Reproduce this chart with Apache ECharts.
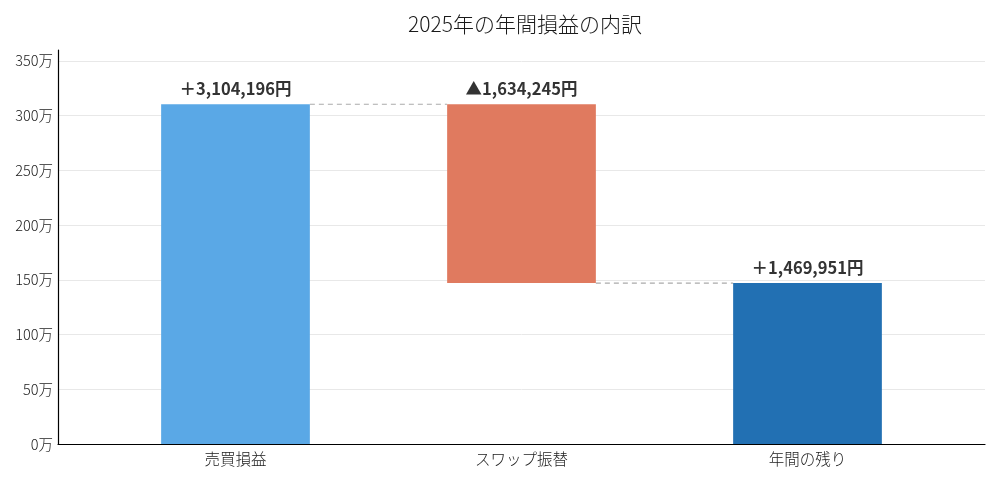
<!DOCTYPE html>
<html><head><meta charset="utf-8">
<script src="https://cdn.jsdelivr.net/npm/echarts@6/dist/echarts.min.js"></script>
<style>html,body{margin:0;padding:0;background:#fff}#c{width:1000px;height:480px}</style>
</head><body><div id="c"></div>
<script>
const categories = ['売買損益', 'スワップ振替', '年間の残り'];
const barBase = [0, 1469951, 0];
const barValue = [3104196, 1634245, 1469951];
const barLabels = ['＋3,104,196円', '▲1,634,245円', '＋1,469,951円'];
const barColors = ['#5AA8E6', '#E07A5F', '#2270B3'];
const yTicks = [0, 500000, 1000000, 1500000, 2000000, 2500000, 3000000, 3500000];
const connectorLevels = [3104196, 1469951];

const FONT = '"Noto Sans CJK JP", "Noto Sans", sans-serif';
const chart = echarts.init(document.getElementById('c'));
const yMax = 3600000;
const gridColors = yTicks.map(() => '#e8e8e8').concat(['rgba(0,0,0,0)']);

chart.setOption({
  animation: false,
  textStyle: { fontFamily: FONT },
  title: {
    text: '2025年の年間損益の内訳', left: 403, top: 9,
    textStyle: { fontFamily: FONT, fontSize: 21, fontWeight: 300, color: '#1a1a1a' }
  },
  grid: [
    { left: 58, right: 15, top: 50, bottom: 36 },
    { left: 92.5, right: 49.5, top: 50, bottom: 36 }
  ],
  xAxis: [
    { gridIndex: 0, type: 'value', min: 0, max: 1, axisLabel: { show: false }, axisTick: { show: false }, splitLine: { show: false },
      axisLine: { show: true, lineStyle: { color: '#000', width: 1.2 } } },
    { gridIndex: 1, type: 'category', data: categories, axisLine: { show: false }, axisTick: { show: false },
      axisLabel: { color: '#1a1a1a', fontSize: 15.5, fontWeight: 300, margin: 7, fontFamily: FONT } }
  ],
  yAxis: [
    { gridIndex: 0, type: 'value', min: 0, max: yMax, interval: 500000,
      axisLine: { show: true, lineStyle: { color: '#000', width: 1.2 } }, axisTick: { show: false },
      axisLabel: { color: '#1a1a1a', fontSize: 14.5, fontWeight: 300, margin: 5, fontFamily: FONT, showMaxLabel: false,
        formatter: v => (yTicks.indexOf(v) >= 0 ? (v / 10000) + '万' : '') },
      splitLine: { show: true, lineStyle: { color: gridColors, width: 1 } } },
    { gridIndex: 1, type: 'value', min: 0, max: yMax, show: false, splitLine: { show: false } }
  ],
  series: [
    { type: 'bar', xAxisIndex: 1, yAxisIndex: 1, stack: 'w', barWidth: '52%', silent: true,
      itemStyle: { color: 'rgba(0,0,0,0)' }, data: barBase },
    { type: 'bar', xAxisIndex: 1, yAxisIndex: 1, stack: 'w', barWidth: '52%',
      data: barValue.map((v, i) => ({ value: v, itemStyle: { color: barColors[i] } })),
      label: { show: true, position: 'top', distance: 7, color: '#333', fontSize: 16.5, fontWeight: 'bold', fontFamily: FONT,
        formatter: p => barLabels[p.dataIndex] } },
    { type: 'custom', xAxisIndex: 1, yAxisIndex: 1, silent: true, z: 1,
      data: connectorLevels.map((v, i) => [i, v]),
      renderItem: (params, api) => {
        const i = api.value(0), v = api.value(1);
        const bw = api.size([1, 0])[0] * 0.52;
        const p0 = api.coord([i, v]);
        const p1 = api.coord([i + 1, v]);
        return { type: 'line', shape: { x1: p0[0] + bw / 2, y1: p0[1], x2: p1[0] - bw / 2, y2: p1[1] },
          style: { stroke: '#aaaaaa', lineWidth: 1.2, lineDash: [5, 4] } };
      } }
  ]
});
</script></body></html>
